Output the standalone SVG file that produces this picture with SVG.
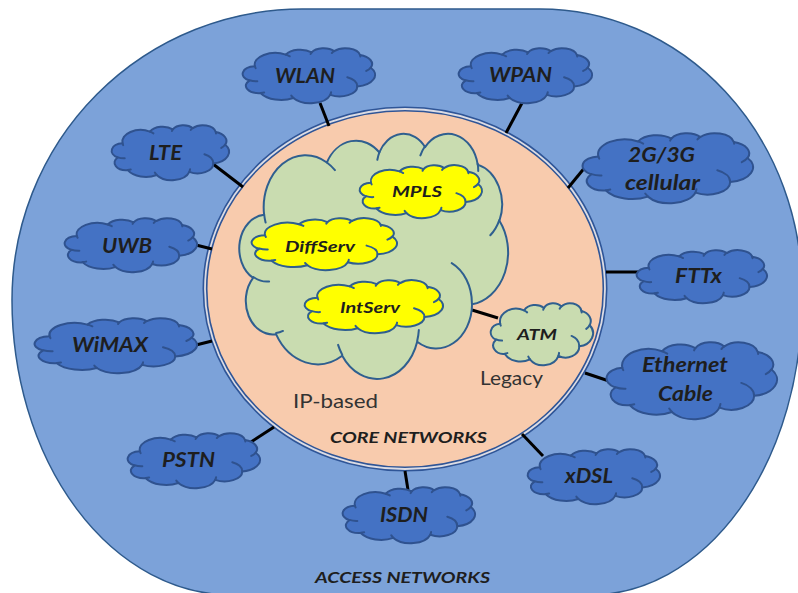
<svg xmlns="http://www.w3.org/2000/svg" xmlns:xlink="http://www.w3.org/1999/xlink" width="798" height="593" viewBox="0 0 798 593">
<style>
.cb{vector-effect:non-scaling-stroke;stroke-linejoin:round}
.ci{fill:none;vector-effect:non-scaling-stroke;stroke-linecap:round}
.blue{fill:#4472C4;stroke:#2F528F;stroke-width:2}
.green{fill:#C9DCB0;stroke:#2F5F8F;stroke-width:2}
.yellow{fill:#FFFF00;stroke:#2F5F8F;stroke-width:2}
.lbl{font-family:Lato,"Liberation Sans",sans-serif;font-weight:bold;font-style:italic;fill:#1E1E1E;text-anchor:middle}
.big{font-size:20px}
.sm{font-size:16px}
.plain{font-family:Lato,"Liberation Sans",sans-serif;font-size:20px;fill:#333;text-anchor:middle}
.conn{stroke:#000;stroke-width:3;stroke-linecap:butt}
</style>
<defs>
<g id="cloud">
<path class="cb" d="M9,33.4 A15.63,21.27 0 0 1 32.42,12.04 A12.35,16.82 0 0 1 51.98,7.95 A10.1,13.76 0 0 1 69.05,5.75 A11.24,15.27 0 0 1 88.69,12.91 A12.35,16.84 0 0 1 96.8,35.8 A15.68,21.34 0 0 1 86.59,69.92 A13.39,18.21 0 0 1 66.11,85.22 A15.63,21.33 0 0 1 38.15,90.9 A17.87,24.41 0 0 1 13.44,82.12 A10.09,13.7 0 0 1 4.89,59.14 A10.06,13.76 0 0 1 9,33.4 Z"/>
<path class="ci" d="M10.86,60.6 A10.06,13.76 0 0 1 5,58.76 M16.04,80.79 A10.09,13.7 0 0 1 13.49,81.67 M38.14,90.49 A15.63,21.33 0 0 1 36.6,86.47 M66.73,80.44 A15.63,21.33 0 0 1 66.11,84.86 M79,53.13 A13.39,18.21 0 0 1 86.53,69.65 M96.75,35.54 A12.35,16.84 0 0 1 93.4,41.73 M88.71,12.56 A11.24,15.27 0 0 1 88.89,15.49 M67.31,9.15 A11.24,15.27 0 0 1 69.02,5.42 M51.25,10.93 A10.1,13.76 0 0 1 52.08,7.72 M32.41,12.02 A15.63,21.27 0 0 1 35.42,15.14 M9.55,36.55 A15.63,21.27 0 0 1 9.02,33.27"/>
</g>
</defs>

<g id="access-networks">
<path d="M302,9 H540 A262,282 0 0 1 802,291 V300 A212,295 0 0 1 590,595 H232 A220,295 0 0 1 12,300 A290,291 0 0 1 302,9 Z" fill="#7CA2D9" stroke="#2E5A8C" stroke-width="1.5"/>
<text class="lbl sm" x="402.5" y="583" textLength="175" lengthAdjust="spacingAndGlyphs">ACCESS NETWORKS</text>
</g>

<g id="core-networks">
<ellipse cx="405" cy="289" rx="200" ry="180" fill="#F8CBAD" stroke="#2F5597" stroke-width="5"/>
<ellipse cx="405" cy="289" rx="200" ry="180" fill="none" stroke="#DCDCE4" stroke-width="1.8"/>
<text class="lbl sm" x="408.5" y="443" textLength="157" lengthAdjust="spacingAndGlyphs">CORE NETWORKS</text>
<text class="plain" x="335.5" y="408" textLength="85" lengthAdjust="spacingAndGlyphs">IP-based</text>
<text class="plain" x="511.5" y="385" textLength="63" lengthAdjust="spacingAndGlyphs">Legacy</text>
</g>

<g id="connectors">
<line class="conn" x1="320" y1="103" x2="329" y2="126"/>
<line class="conn" x1="213" y1="164" x2="243" y2="187"/>
<line class="conn" x1="196" y1="245" x2="212" y2="249"/>
<line class="conn" x1="196" y1="345" x2="212" y2="341"/>
<line class="conn" x1="251" y1="442" x2="274" y2="427"/>
<line class="conn" x1="405" y1="471" x2="408" y2="490"/>
<line class="conn" x1="522" y1="434" x2="543" y2="456"/>
<line class="conn" x1="585" y1="373" x2="609" y2="381"/>
<line class="conn" x1="606" y1="272" x2="640" y2="272"/>
<line class="conn" x1="568" y1="188" x2="586" y2="166"/>
<line class="conn" x1="506" y1="133" x2="522" y2="103"/>
<line class="conn" x1="472" y1="310" x2="498" y2="318"/>
</g>

<g id="ip-cloud">
<use xlink:href="#cloud" class="green" transform="translate(240 133) scale(2.68 2.45)"/>
</g>
<g id="mpls">
<use xlink:href="#cloud" class="yellow" transform="translate(360 165) scale(1.22 0.53)"/>
<text class="lbl sm" x="417" y="197" textLength="50" lengthAdjust="spacingAndGlyphs">MPLS</text>
</g>
<g id="diffserv">
<use xlink:href="#cloud" class="yellow" transform="translate(252 218) scale(1.45 0.52)"/>
<text class="lbl sm" x="320" y="252" textLength="70" lengthAdjust="spacingAndGlyphs">DiffServ</text>
</g>
<g id="intserv">
<use xlink:href="#cloud" class="yellow" transform="translate(305 280) scale(1.38 0.53)"/>
<text class="lbl sm" x="370" y="313" textLength="60" lengthAdjust="spacingAndGlyphs">IntServ</text>
</g>
<g id="atm">
<use xlink:href="#cloud" class="green" transform="translate(491 303) scale(1.02 0.62)"/>
<text class="lbl sm" x="537" y="340" textLength="40" lengthAdjust="spacingAndGlyphs">ATM</text>
</g>

<g id="wlan">
<use xlink:href="#cloud" class="blue" transform="translate(243 48) scale(1.32 0.55)"/>
<text class="lbl big" x="305" y="83" textLength="60" lengthAdjust="spacingAndGlyphs">WLAN</text>
</g>
<g id="wpan">
<use xlink:href="#cloud" class="blue" transform="translate(459 48) scale(1.33 0.55)"/>
<text class="lbl big" x="520.5" y="82" textLength="63" lengthAdjust="spacingAndGlyphs">WPAN</text>
</g>
<g id="lte">
<use xlink:href="#cloud" class="blue" transform="translate(112 125) scale(1.17 0.55)"/>
<text class="lbl big" x="165.5" y="160" textLength="33" lengthAdjust="spacingAndGlyphs">LTE</text>
</g>
<g id="cellular">
<use xlink:href="#cloud" class="blue" transform="translate(583 133) scale(1.7 0.7)"/>
<text class="lbl big" x="661.5" y="162" textLength="67" lengthAdjust="spacingAndGlyphs">2G/3G</text>
<text class="lbl big" x="662.5" y="190" textLength="75" lengthAdjust="spacingAndGlyphs">cellular</text>
</g>
<g id="uwb">
<use xlink:href="#cloud" class="blue" transform="translate(65 218) scale(1.32 0.54)"/>
<text class="lbl big" x="127" y="253" textLength="50" lengthAdjust="spacingAndGlyphs">UWB</text>
</g>
<g id="fttx">
<use xlink:href="#cloud" class="blue" transform="translate(637 250) scale(1.3 0.53)"/>
<text class="lbl big" x="698.5" y="283" textLength="47" lengthAdjust="spacingAndGlyphs">FTTx</text>
</g>
<g id="wimax">
<use xlink:href="#cloud" class="blue" transform="translate(35 318) scale(1.62 0.55)"/>
<text class="lbl big" x="110" y="352" textLength="76" lengthAdjust="spacingAndGlyphs">WiMAX</text>
</g>
<g id="ethernet">
<use xlink:href="#cloud" class="blue" transform="translate(607 342) scale(1.7 0.77)"/>
<text class="lbl big" x="685" y="372" textLength="86" lengthAdjust="spacingAndGlyphs">Ethernet</text>
<text class="lbl big" x="685.5" y="401" textLength="55" lengthAdjust="spacingAndGlyphs">Cable</text>
</g>
<g id="pstn">
<use xlink:href="#cloud" class="blue" transform="translate(128 433) scale(1.32 0.55)"/>
<text class="lbl big" x="188.5" y="467" textLength="53" lengthAdjust="spacingAndGlyphs">PSTN</text>
</g>
<g id="isdn">
<use xlink:href="#cloud" class="blue" transform="translate(343 487) scale(1.32 0.56)"/>
<text class="lbl big" x="404" y="522" textLength="48" lengthAdjust="spacingAndGlyphs">ISDN</text>
</g>
<g id="xdsl">
<use xlink:href="#cloud" class="blue" transform="translate(528 449) scale(1.32 0.55)"/>
<text class="lbl big" x="589" y="483" textLength="48" lengthAdjust="spacingAndGlyphs">xDSL</text>
</g>
</svg>
